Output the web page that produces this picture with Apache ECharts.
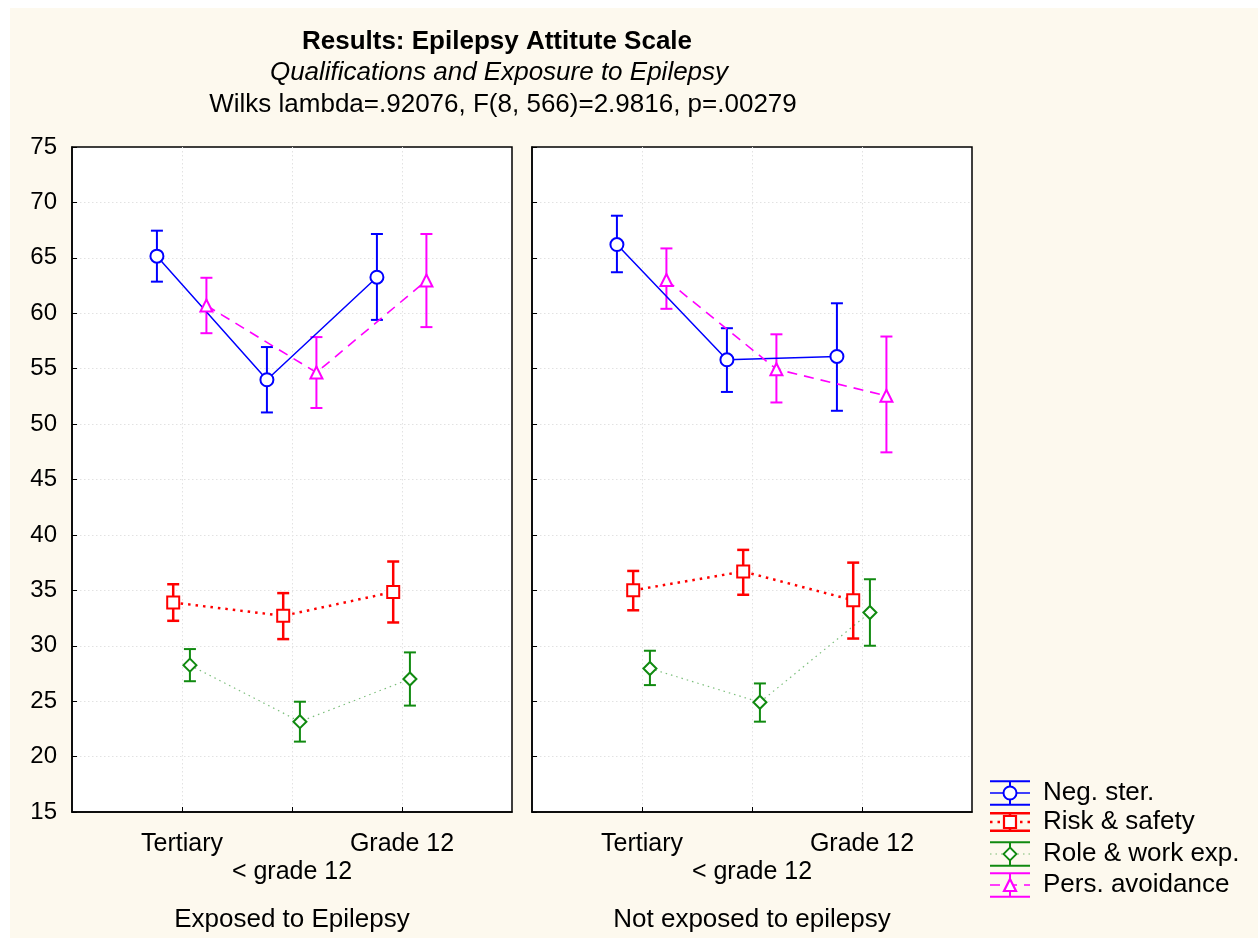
<!DOCTYPE html>
<html><head><meta charset="utf-8">
<script src="https://cdn.jsdelivr.net/npm/echarts@6/dist/echarts.min.js"></script>
<style>html,body{margin:0;padding:0;background:#fff}#c{width:1258px;height:938px}</style>
</head><body><div id="c"></div>
<script>
// ---------------- data ----------------
const categories = ['Tertiary', '< grade 12', 'Grade 12'];
const panelNames = ['Exposed to Epilepsy', 'Not exposed to epilepsy'];
const seriesNames = ['Neg. ster.', 'Risk & safety', 'Role & work exp.', 'Pers. avoidance'];
const titleLines = ['Results: Epilepsy Attitute Scale', 'Qualifications and Exposure to Epilepsy', 'Wilks lambda=.92076, F(8, 566)=2.9816, p=.00279'];

// Exposed to Epilepsy
const negSterExposedMean = [65.15, 54.0, 63.25];
const negSterExposedLow  = [62.85, 51.05, 59.4];
const negSterExposedHigh = [67.45, 56.95, 67.15];
const riskExposedMean = [33.9, 32.7, 34.85];
const riskExposedLow  = [32.25, 30.6, 32.1];
const riskExposedHigh = [35.55, 34.75, 37.6];
const roleExposedMean = [28.25, 23.15, 27.0];
const roleExposedLow  = [26.8, 21.35, 24.6];
const roleExposedHigh = [29.7, 24.95, 29.4];
const persExposedMean = [60.7, 54.65, 62.95];
const persExposedLow  = [58.2, 51.45, 58.75];
const persExposedHigh = [63.2, 57.85, 67.15];

// Not exposed to epilepsy
const negSterNotMean = [66.2, 55.8, 56.1];
const negSterNotLow  = [63.7, 52.9, 51.2];
const negSterNotHigh = [68.8, 58.65, 60.9];
const riskNotMean = [35.0, 36.7, 34.1];
const riskNotLow  = [33.2, 34.6, 30.65];
const riskNotHigh = [36.75, 38.65, 37.5];
const roleNotMean = [27.95, 24.9, 33.0];
const roleNotLow  = [26.45, 23.15, 30.0];
const roleNotHigh = [29.55, 26.6, 36.0];
const persNotMean = [63.0, 54.95, 52.55];
const persNotLow  = [60.4, 51.95, 47.45];
const persNotHigh = [65.85, 58.1, 57.9];

// ---------------- styles ----------------
const FONT = 'Liberation Sans, Arial, Helvetica, sans-serif';
const jitter = [-0.228, -0.08, 0.072, 0.222];
const styles = [
  {color: '#0000ff', symbol: 'emptyCircle', size: 13, bw: 2, lw: 1.5, dash: 'solid', ebw: 2},
  {color: '#ff0000', symbol: 'emptyRect', size: 12, bw: 2.6, lw: 2.5, dash: [2.5, 5], ebw: 2.5},
  {color: '#108a10', symbol: 'emptyDiamond', size: 13, bw: 1.8, lw: 1.2, dash: [1.5, 4], ebw: 2, lineOpacity: 0.55},
  {color: '#ff00ff', symbol: 'emptyTriangle', size: 12, bw: 2.6, lw: 1.6, dash: [10, 7], ebw: 2}
];
const panelData = [
  [[negSterExposedMean, negSterExposedLow, negSterExposedHigh],
   [riskExposedMean, riskExposedLow, riskExposedHigh],
   [roleExposedMean, roleExposedLow, roleExposedHigh],
   [persExposedMean, persExposedLow, persExposedHigh]],
  [[negSterNotMean, negSterNotLow, negSterNotHigh],
   [riskNotMean, riskNotLow, riskNotHigh],
   [roleNotMean, roleNotLow, roleNotHigh],
   [persNotMean, persNotLow, persNotHigh]]
];

const grids = [0, 1].map(p => ({
  left: p === 0 ? 72 : 532, top: 147, width: 440, height: 666,
  show: true, backgroundColor: '#ffffff', borderColor: '#000', borderWidth: 1.5
}));

const gridLine = {show: true, showMinLine: false, showMaxLine: false, lineStyle: {color: '#e2e2e2', type: [1.5, 2.5], width: 1}};

const xAxes = [0, 1].map(p => ({
  type: 'value', gridIndex: p, min: 0, max: categories.length + 1, interval: 1,
  axisLine: {show: true, lineStyle: {color: '#000', width: 1.5}},
  axisTick: {show: true, inside: true, length: 5, lineStyle: {color: '#000', width: 1}},
  splitLine: gridLine,
  axisLabel: {
    color: '#000', fontFamily: FONT, fontSize: 25, margin: 18, lineHeight: 28,
    showMinLabel: false, showMaxLabel: false,
    formatter: v => (v >= 1 && v <= categories.length) ? (v % 2 === 0 ? '\n' + categories[v - 1] : categories[v - 1]) : ''
  },
  name: panelNames[p], nameLocation: 'middle', nameGap: 95,
  nameTextStyle: {color: '#000', fontFamily: FONT, fontSize: 26}
}));

const yAxes = [0, 1].map(p => ({
  type: 'value', gridIndex: p, min: 15, max: 75, interval: 5,
  axisLine: {show: true, lineStyle: {color: '#000', width: 1.5}},
  axisTick: {show: true, inside: true, length: 5, lineStyle: {color: '#000', width: 1}},
  splitLine: gridLine,
  axisLabel: {show: p === 0, color: '#000', fontFamily: FONT, fontSize: 24, margin: 15}
}));

const series = [];
[0, 1].forEach(p => {
  panelData[p].forEach((d, s) => {
    const st = styles[s];
    const pts = d[0].map((m, i) => [i + 1 + jitter[s], m]);
    const bars = d[0].map((m, i) => [i + 1 + jitter[s], d[1][i], d[2][i]]);
    series.push({
      type: 'custom', name: seriesNames[s], xAxisIndex: p, yAxisIndex: p, z: 2,
      encode: {x: 0, y: [1, 2]},
      data: bars,
      renderItem: (params, api) => {
        const x = api.value(0);
        const a = api.coord([x, api.value(2)]);
        const b = api.coord([x, api.value(1)]);
        const hw = 6;
        const ls = {stroke: st.color, lineWidth: st.ebw};
        return {type: 'group', children: [
          {type: 'line', shape: {x1: a[0], y1: a[1], x2: b[0], y2: b[1]}, style: ls},
          {type: 'line', shape: {x1: a[0] - hw, y1: a[1], x2: a[0] + hw, y2: a[1]}, style: ls},
          {type: 'line', shape: {x1: b[0] - hw, y1: b[1], x2: b[0] + hw, y2: b[1]}, style: ls}
        ]};
      }
    });
    series.push({
      type: 'line', name: seriesNames[s], xAxisIndex: p, yAxisIndex: p, z: 3,
      data: pts, symbol: st.symbol, symbolSize: st.size, showAllSymbol: true,
      itemStyle: {color: st.color, borderColor: st.color, borderWidth: st.bw},
      lineStyle: {color: st.color, width: st.lw, type: st.dash, opacity: st.lineOpacity || 1},
      emphasis: {disabled: true}, animation: false
    });
  });
});

// legend drawn as graphic (error-bar glyph + marker + label)
const legendY = [793, 822, 854, 885];
const legendHalf = [11.7, 8.8, 11.7, 11.7];
const legendGraphics = [];
seriesNames.forEach((name, s) => {
  const st = styles[s];
  const cy = legendY[s], h = legendHalf[s], x0 = 990, x1 = 1030, cx = 1010;
  const ls = {stroke: st.color, lineWidth: st.ebw};
  legendGraphics.push({type: 'line', shape: {x1: x0, y1: cy - h, x2: x1, y2: cy - h}, style: ls});
  legendGraphics.push({type: 'line', shape: {x1: x0, y1: cy + h, x2: x1, y2: cy + h}, style: ls});
  legendGraphics.push({type: 'line', shape: {x1: cx, y1: cy - h, x2: cx, y2: cy + h}, style: ls});
  legendGraphics.push({type: 'line', shape: {x1: x0, y1: cy, x2: x1, y2: cy},
    style: {stroke: st.color, lineWidth: st.lw, lineDash: st.dash === 'solid' ? null : st.dash, opacity: st.lineOpacity || 1}});
  const ms = {fill: '#fff', stroke: st.color, lineWidth: Math.min(st.bw, 2.2)};
  const r = st.size / 2;
  if (s === 0) legendGraphics.push({type: 'circle', shape: {cx, cy, r}, style: ms, z: 5});
  if (s === 1) legendGraphics.push({type: 'rect', shape: {x: cx - r, y: cy - r, width: st.size, height: st.size}, style: ms, z: 5});
  if (s === 2) legendGraphics.push({type: 'polygon', shape: {points: [[cx, cy - r], [cx + r, cy], [cx, cy + r], [cx - r, cy]]}, style: ms, z: 5});
  if (s === 3) legendGraphics.push({type: 'polygon', shape: {points: [[cx, cy - r], [cx + r, cy + r], [cx - r, cy + r]]}, style: ms, z: 5});
  legendGraphics.push({type: 'text', x: 1043, y: cy, style: {text: name, fill: '#000', font: '26px ' + FONT, verticalAlign: 'middle'}, z: 5});
});

const titleGraphics = [
  {type: 'text', x: 497, y: 42, style: {text: titleLines[0], fill: '#000', font: 'bold 26px ' + FONT, align: 'center', verticalAlign: 'middle'}},
  {type: 'text', x: 499, y: 73, style: {text: titleLines[1], fill: '#000', font: 'italic 26px ' + FONT, align: 'center', verticalAlign: 'middle'}},
  {type: 'text', x: 503, y: 105, style: {text: titleLines[2], fill: '#000', font: '26px ' + FONT, align: 'center', verticalAlign: 'middle'}}
];

const option = {
  backgroundColor: '#fdf9ee',
  animation: false,
  grid: grids,
  xAxis: xAxes,
  yAxis: yAxes,
  series: series,
  graphic: [
    {type: 'rect', shape: {x: 0, y: 0, width: 1258, height: 8}, style: {fill: '#fff'}, z: -10, silent: true},
    {type: 'rect', shape: {x: 0, y: 0, width: 10, height: 938}, style: {fill: '#fff'}, z: -10, silent: true}
  ].concat(titleGraphics, legendGraphics)
};
const chart = echarts.init(document.getElementById('c'), null, {renderer: 'canvas'});
chart.setOption(option);
</script></body></html>
